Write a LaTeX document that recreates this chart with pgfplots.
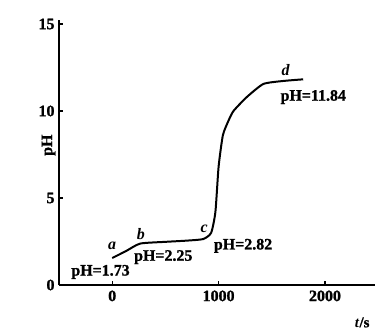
\documentclass[border=0pt]{standalone}
\usepackage{fontspec}
\setmainfont[BoldFeatures={FakeBold=1.2}]{Liberation Serif}
\usepackage{pgfplots}
\pgfplotsset{compat=1.18}
\begin{document}
\begin{tikzpicture}
\begin{axis}[
  scale only axis,
  width=316bp, height=264.5bp,
  xmin=-500, xmax=2470, ymin=0, ymax=15.2,
  axis x line=bottom, axis y line=left,
  axis line style={line width=2pt,-},
  xtick={0,1000,2000}, ytick={0,5,10,15},
  tick align=inside, major tick length=4bp,
  tick style={line width=1.4pt,black},
  ticklabel style={font=\fontsize{16}{18}\selectfont\bfseries},
  /pgf/number format/assume math mode=true,
  /pgf/number format/1000 sep={},
  xticklabel style={yshift=-2bp},
  yticklabel style={xshift=-1bp},
  ylabel={\textbf{pH}},
  ylabel style={font=\fontsize{16}{18}\selectfont, at={(axis description cs:0,0.54)}, xshift=-3bp},
  clip=false,
]
\addplot[line width=2pt, smooth, tension=0.35] coordinates {
  (0,1.55) (130,1.95) (263,2.38) (500,2.48) (700,2.55) (855,2.64) (930,3.0)
  (970,4.2) (1000,6.8) (1040,8.6) (1090,9.4) (1140,10.0) (1265,10.8) (1420,11.55) (1600,11.72) (1795,11.82)
};
\node[font=\fontsize{16}{18}\selectfont\bfseries\itshape] at (axis cs:0,2.25) {a};
\node[font=\fontsize{16}{18}\selectfont\bfseries\itshape] at (axis cs:270,2.95) {b};
\node[font=\fontsize{16}{18}\selectfont\bfseries\itshape] at (axis cs:865,3.2) {c};
\node[font=\fontsize{16}{18}\selectfont\bfseries\itshape] at (axis cs:1630,12.35) {d};
\node[font=\fontsize{16}{18}\selectfont\bfseries] at (axis cs:-110,0.75) {pH=1.73};
\node[font=\fontsize{16}{18}\selectfont\bfseries] at (axis cs:480,1.6) {pH=2.25};
\node[font=\fontsize{16}{18}\selectfont\bfseries] at (axis cs:1230,2.25) {pH=2.82};
\node[font=\fontsize{16}{18}\selectfont\bfseries] at (axis cs:1890,10.8) {pH=11.84};
\node[font=\fontsize{15}{17}\selectfont\bfseries] at (axis cs:2350,-2.15) {\textit{t}/s};
\end{axis}
\pgfresetboundingbox
\useasboundingbox (-59bp,-46bp) rectangle (316bp,285bp);
\end{tikzpicture}
\end{document}
